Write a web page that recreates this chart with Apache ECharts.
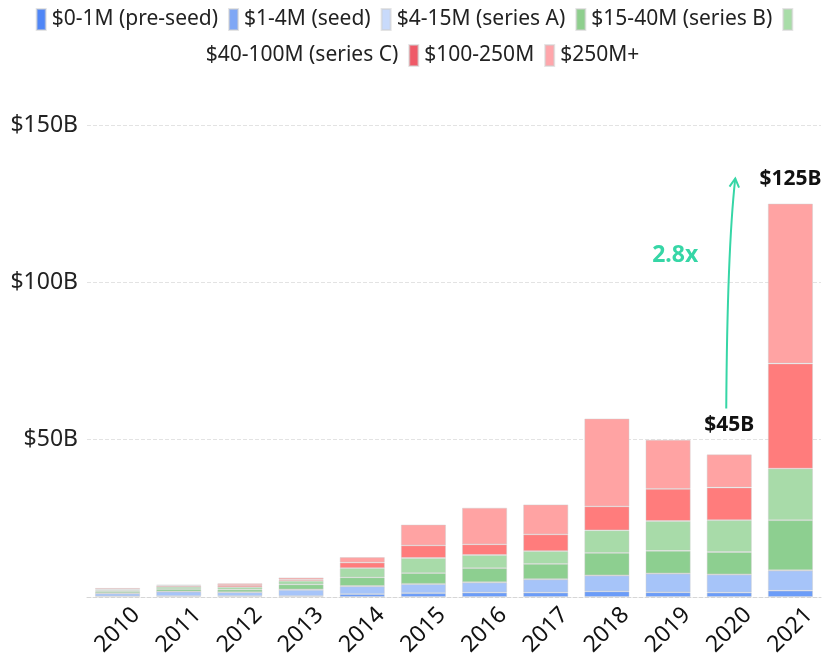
<!DOCTYPE html>
<html>
<head>
<meta charset="utf-8">
<script src="https://cdn.jsdelivr.net/npm/echarts@6/dist/echarts.min.js"></script>
<style>
  html, body { margin: 0; padding: 0; background: #fff; }
  #main { width: 829px; height: 654px; }
</style>
</head>
<body>
<div id="main"></div>
<script>
// 年份
var years = ['2010', '2011', '2012', '2013', '2014', '2015', '2016', '2017', '2018', '2019', '2020', '2021'];
// 各轮次名称（图例）
var stages = ['$0-1M (pre-seed)', '$1-4M (seed)', '$4-15M (series A)', '$15-40M (series B)',
  '$40-100M (series C)', '$100-250M', '$250M+'];

// 各轮次金额，单位 $B
var preSeed  = [0.2, 0.3, 0.3, 0.3, 0.9, 1.2, 1.4, 1.4, 1.8, 1.5, 1.4, 2.0];
var seed     = [0.9, 1.4, 1.2, 2.0, 2.5, 2.9, 3.2, 4.2, 5.0, 5.9, 5.7, 6.4];
var seriesA  = [0.05, 0.05, 0.05, 0.1, 0.1, 0.1, 0.1, 0.1, 0.1, 0.1, 0.1, 0.1];
var seriesB  = [0.5, 0.75, 0.8, 1.6, 2.75, 3.4, 4.45, 4.8, 7.1, 7.2, 7.1, 15.9];
var seriesC  = [0.5, 0.7, 0.8, 1.15, 2.9, 4.8, 4.2, 4.1, 7.2, 9.45, 10.1, 16.4];
var mega     = [0.3, 0.4, 0.6, 0.45, 1.8, 4.0, 3.4, 5.3, 7.6, 10.2, 10.4, 33.4];
var megaPlus = [0.4, 0.3, 0.6, 0.6, 1.7, 6.6, 11.6, 9.5, 27.9, 15.6, 10.5, 50.8];

var yTicks = [0, 50, 100, 150];

var allData = [preSeed, seed, seriesA, seriesB, seriesC, mega, megaPlus];
var legendColors = ['#4f86f7', '#7fa7f5', '#c8dafb', '#8ecf8d', '#a8dda8', '#ef5a68', '#ffa6ab'];
var barColors = ['#6b9cf8', '#a6c4f9', '#d0e0fc', '#8dcf90', '#a8dba9', '#ff7c7c', '#ffa3a3'];
var teal = '#36d6a6';
var font = 'Noto Sans';

var totals = years.map(function (y, i) {
  return allData.reduce(function (s, arr) { return s + arr[i]; }, 0);
});
var labelled = { 10: 19, 11: 14 }; // 2020 / 2021 顶部标注

var series = stages.map(function (name, k) {
  var isTop = k === stages.length - 1;
  return {
    name: name,
    type: 'bar',
    stack: 'total',
    barWidth: 45,
    itemStyle: { color: barColors[k], borderColor: 'rgba(205,205,205,0.55)', borderWidth: 0.8 },
    data: allData[k].map(function (v, i) {
      if (isTop && labelled[i] !== undefined) {
        return {
          value: v,
          label: {
            show: true, position: 'top', distance: labelled[i],
            formatter: '$' + Math.round(totals[i]) + 'B',
            fontFamily: font, fontWeight: 'bold', fontSize: 21, color: '#111'
          }
        };
      }
      return v;
    })
  };
});

var legendBase = {
  icon: 'rect', itemWidth: 9, itemHeight: 21, itemGap: 10,
  left: 'center', padding: 0,
  textStyle: { fontFamily: font, fontSize: 21, color: '#222', padding: [0, 0, 0, 1] }
};

var myChart = echarts.init(document.getElementById('main'));
myChart.setOption({
  animation: false,
  textStyle: { fontFamily: font },
  legend: [
    Object.assign({}, legendBase, {
      top: 8,
      data: stages.slice(0, 5).map(function (n, k) { return { name: n, itemStyle: { color: legendColors[k] } }; }),
      formatter: function (n) { return n === stages[4] ? '' : n; }
    }),
    Object.assign({}, legendBase, {
      top: 44,
      data: stages.slice(4).map(function (n, k) {
        return { name: n, itemStyle: { color: legendColors[k + 4], opacity: k === 0 ? 0 : 1 } };
      })
    })
  ],
  grid: { left: 87, right: 8, top: 125, bottom: 57, containLabel: false, outerBoundsMode: 'none' },
  xAxis: {
    type: 'category',
    data: years,
    axisLine: { lineStyle: { color: '#d6d6d6', type: 'dashed' } },
    axisTick: { show: false },
    axisLabel: {
      rotate: 45, align: 'center', verticalAlign: 'middle', margin: 33,
      fontFamily: font, fontSize: 23, color: '#111'
    }
  },
  yAxis: {
    type: 'value',
    min: yTicks[0], max: yTicks[yTicks.length - 1], interval: 50,
    axisLine: { show: false },
    axisTick: { show: false },
    splitLine: { lineStyle: { color: '#e3e3e3', type: 'dashed' } },
    axisLabel: {
      margin: 9, fontFamily: font, fontSize: 23, color: '#222',
      formatter: function (v) { return v === 0 ? '' : '$' + v + 'B'; }
    }
  },
  series: series
});

// 2020 -> 2021 增长箭头
var p = myChart.convertToPixel({ gridIndex: 0 }, [years[10], totals[10]]);
var yTop = myChart.convertToPixel({ gridIndex: 0 }, [years[10], 133])[1];
var yCtl = myChart.convertToPixel({ gridIndex: 0 }, [years[10], 110])[1];
var yTxt = myChart.convertToPixel({ gridIndex: 0 }, [years[10], 108.5])[1];
var sx = p[0] - 3, sy = p[1] - 46;
var ex = p[0] + 6, ey = yTop;
var cx = p[0] - 2, cy = yCtl;
var dx = ex - cx, dy = ey - cy, len = Math.sqrt(dx * dx + dy * dy);
dx /= len; dy /= len;
function headPt(ang) {
  var c = Math.cos(ang), s = Math.sin(ang);
  var rx = -dx * c + dy * s, ry = -dx * s - dy * c;
  return [ex + rx * 10, ey + ry * 10];
}
myChart.setOption({
  graphic: [
    {
      type: 'bezierCurve',
      shape: { x1: sx, y1: sy, x2: ex, y2: ey, cpx1: cx, cpy1: cy },
      style: { stroke: teal, lineWidth: 2, fill: null }
    },
    {
      type: 'polyline',
      shape: { points: [headPt(0.5), [ex, ey], headPt(-0.5)] },
      style: { stroke: teal, lineWidth: 2, fill: null }
    },
    {
      type: 'text',
      x: p[0] - 54, y: yTxt,
      style: { text: '2.8x', fill: teal, font: 'bold 23px "Noto Sans"', align: 'center', verticalAlign: 'middle' }
    }
  ]
});
</script>
</body>
</html>
